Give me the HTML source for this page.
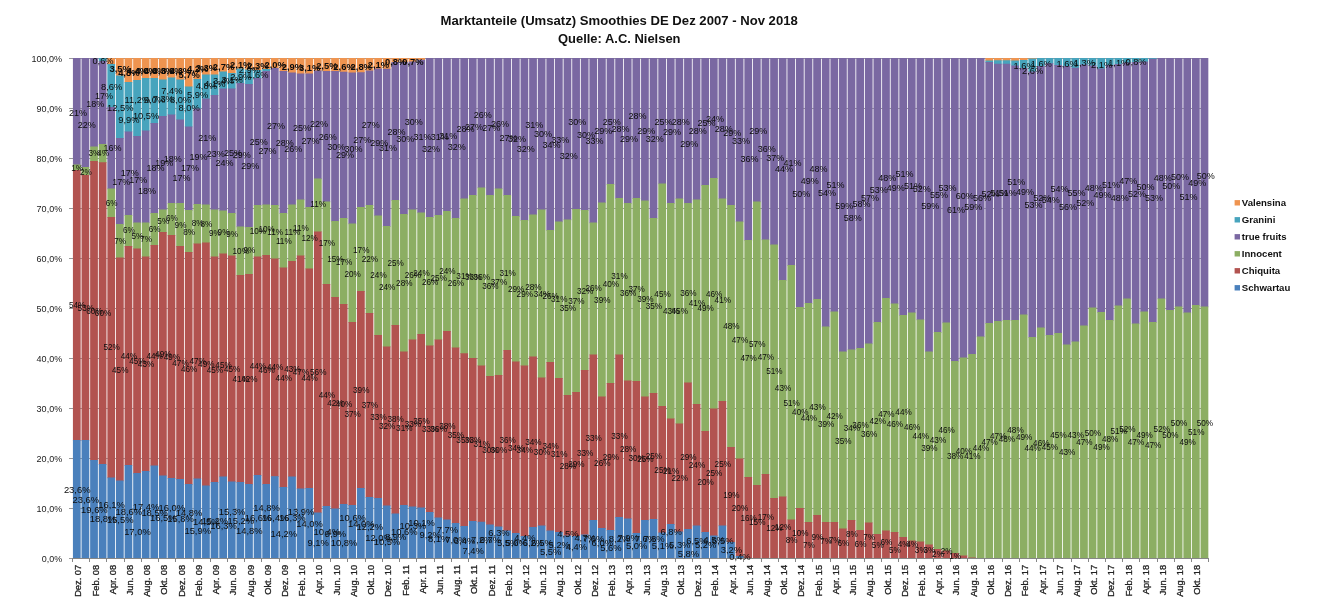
<!DOCTYPE html>
<html lang="de"><head><meta charset="utf-8"><title>Marktanteile (Umsatz) Smoothies DE</title>
<style>html,body{margin:0;padding:0;background:#fff}body{width:1320px;height:614px;overflow:hidden}svg{display:block}</style>
</head><body>
<svg width="1320" height="614" viewBox="0 0 1320 614">
<rect width="1320" height="614" fill="#fff"/>
<g stroke="#9a9a9a" stroke-width="1" shape-rendering="crispEdges">
<line x1="68.5" y1="558.5" x2="1208.06" y2="558.5"/>
<line x1="68.5" y1="508.5" x2="1208.06" y2="508.5"/>
<line x1="68.5" y1="458.5" x2="1208.06" y2="458.5"/>
<line x1="68.5" y1="408.5" x2="1208.06" y2="408.5"/>
<line x1="68.5" y1="358.5" x2="1208.06" y2="358.5"/>
<line x1="68.5" y1="308.5" x2="1208.06" y2="308.5"/>
<line x1="68.5" y1="258.5" x2="1208.06" y2="258.5"/>
<line x1="68.5" y1="208.5" x2="1208.06" y2="208.5"/>
<line x1="68.5" y1="158.5" x2="1208.06" y2="158.5"/>
<line x1="68.5" y1="108.5" x2="1208.06" y2="108.5"/>
<line x1="68.5" y1="58.5" x2="1208.06" y2="58.5"/>
</g>
<g fill="#ef9450"><rect x="107.36" y="58" width="7.76" height="6.7"/><rect x="115.97" y="58" width="7.76" height="18.2"/><rect x="124.57" y="58" width="7.76" height="24.7"/><rect x="133.18" y="58" width="7.76" height="22.7"/><rect x="141.79" y="58" width="7.76" height="20.7"/><rect x="150.4" y="58" width="7.76" height="20.7"/><rect x="159.01" y="58" width="7.76" height="22.2"/><rect x="167.61" y="58" width="7.76" height="20.2"/><rect x="176.22" y="58" width="7.76" height="22.2"/><rect x="184.83" y="58" width="7.76" height="29.2"/><rect x="193.44" y="58" width="7.76" height="21.7"/><rect x="202.05" y="58" width="7.76" height="17.2"/><rect x="210.65" y="58" width="7.76" height="17.2"/><rect x="219.26" y="58" width="7.76" height="14.2"/><rect x="227.87" y="58" width="7.76" height="15.7"/><rect x="236.48" y="58" width="7.76" height="11.2"/><rect x="245.09" y="58" width="7.76" height="12.2"/><rect x="253.69" y="58" width="7.76" height="12.7"/><rect x="262.3" y="58" width="7.76" height="11.7"/><rect x="270.91" y="58" width="7.76" height="10.7"/><rect x="279.52" y="58" width="7.76" height="13.7"/><rect x="288.13" y="58" width="7.76" height="15.2"/><rect x="296.73" y="58" width="7.76" height="16.2"/><rect x="305.34" y="58" width="7.76" height="16.2"/><rect x="313.95" y="58" width="7.76" height="13.2"/><rect x="322.56" y="58" width="7.76" height="13.7"/><rect x="331.17" y="58" width="7.76" height="13.7"/><rect x="339.77" y="58" width="7.76" height="14.45"/><rect x="348.38" y="58" width="7.76" height="15.2"/><rect x="356.99" y="58" width="7.76" height="14.95"/><rect x="365.6" y="58" width="7.76" height="13.2"/><rect x="374.21" y="58" width="7.76" height="11.2"/><rect x="382.81" y="58" width="7.76" height="11.45"/><rect x="391.42" y="58" width="7.76" height="4.7"/><rect x="400.03" y="58" width="7.76" height="4.7"/><rect x="408.64" y="58" width="7.76" height="4.2"/><rect x="417.25" y="58" width="7.76" height="2.45"/><rect x="985.37" y="58" width="7.76" height="3.2"/><rect x="993.98" y="58" width="7.76" height="2.95"/><rect x="1002.59" y="58" width="7.76" height="2.95"/><rect x="1011.2" y="58" width="7.76" height="3.2"/><rect x="1019.81" y="58" width="7.76" height="2.7"/><rect x="1028.41" y="58" width="7.76" height="1.2"/></g>
<g fill="#47a4bd"><rect x="98.75" y="58" width="7.76" height="3.7"/><rect x="107.36" y="64" width="7.76" height="43.7"/><rect x="115.97" y="75.5" width="7.76" height="63.2"/><rect x="124.57" y="82" width="7.76" height="50.2"/><rect x="133.18" y="80" width="7.76" height="56.7"/><rect x="141.79" y="78" width="7.76" height="53.2"/><rect x="150.4" y="78" width="7.76" height="45.7"/><rect x="159.01" y="79.5" width="7.76" height="37.2"/><rect x="167.61" y="77.5" width="7.76" height="37.7"/><rect x="176.22" y="79.5" width="7.76" height="40.7"/><rect x="184.83" y="86.5" width="7.76" height="40.7"/><rect x="193.44" y="79" width="7.76" height="30.2"/><rect x="202.05" y="74.5" width="7.76" height="24.7"/><rect x="210.65" y="74.5" width="7.76" height="21.2"/><rect x="219.26" y="71.5" width="7.76" height="17.7"/><rect x="227.87" y="73" width="7.76" height="16.2"/><rect x="236.48" y="68.5" width="7.76" height="15.2"/><rect x="245.09" y="69.5" width="7.76" height="15.2"/><rect x="253.69" y="70" width="7.76" height="8.7"/><rect x="262.3" y="69" width="7.76" height="2.7"/><rect x="985.37" y="60.5" width="7.76" height="2.2"/><rect x="993.98" y="60.25" width="7.76" height="4.2"/><rect x="1002.59" y="60.25" width="7.76" height="4.2"/><rect x="1011.2" y="60.5" width="7.76" height="5.7"/><rect x="1019.81" y="60" width="7.76" height="8.7"/><rect x="1028.41" y="58.5" width="7.76" height="13.7"/><rect x="1037.02" y="58" width="7.76" height="8.7"/><rect x="1045.63" y="58" width="7.76" height="5.95"/><rect x="1054.24" y="58" width="7.76" height="7.7"/><rect x="1062.85" y="58" width="7.76" height="8.7"/><rect x="1071.45" y="58" width="7.76" height="10.45"/><rect x="1080.06" y="58" width="7.76" height="7.2"/><rect x="1088.67" y="58" width="7.76" height="8.2"/><rect x="1097.28" y="58" width="7.76" height="11.2"/><rect x="1105.88" y="58" width="7.76" height="7.7"/><rect x="1114.49" y="58" width="7.76" height="6.7"/><rect x="1123.1" y="58" width="7.76" height="5.2"/><rect x="1131.71" y="58" width="7.76" height="4.7"/><rect x="1140.32" y="58" width="7.76" height="4.2"/><rect x="1148.92" y="58" width="7.76" height="1.45"/></g>
<g fill="#7a68a2"><rect x="72.92" y="58" width="7.76" height="107.2"/><rect x="81.53" y="58" width="7.76" height="109.7"/><rect x="90.14" y="58" width="7.76" height="89.2"/><rect x="98.75" y="61" width="7.76" height="83.7"/><rect x="107.36" y="107" width="7.76" height="82.2"/><rect x="115.97" y="138" width="7.76" height="86.7"/><rect x="124.57" y="131.5" width="7.76" height="84.2"/><rect x="133.18" y="136" width="7.76" height="87.2"/><rect x="141.79" y="130.5" width="7.76" height="92.7"/><rect x="150.4" y="123" width="7.76" height="90.7"/><rect x="159.01" y="116" width="7.76" height="94.2"/><rect x="167.61" y="114.5" width="7.76" height="89.2"/><rect x="176.22" y="119.5" width="7.76" height="84.2"/><rect x="184.83" y="126.5" width="7.76" height="84.2"/><rect x="193.44" y="108.5" width="7.76" height="96.2"/><rect x="202.05" y="98.5" width="7.76" height="106.7"/><rect x="210.65" y="95" width="7.76" height="115.2"/><rect x="219.26" y="88.5" width="7.76" height="122.7"/><rect x="227.87" y="88.5" width="7.76" height="125.2"/><rect x="236.48" y="83" width="7.76" height="144.2"/><rect x="245.09" y="84" width="7.76" height="143.7"/><rect x="253.69" y="78" width="7.76" height="127.7"/><rect x="262.3" y="71" width="7.76" height="134.2"/><rect x="270.91" y="68" width="7.76" height="137.7"/><rect x="279.52" y="71" width="7.76" height="142.7"/><rect x="288.13" y="72.5" width="7.76" height="132.7"/><rect x="296.73" y="73.5" width="7.76" height="126.7"/><rect x="305.34" y="73.5" width="7.76" height="134.2"/><rect x="313.95" y="70.5" width="7.76" height="108.7"/><rect x="322.56" y="71" width="7.76" height="131.2"/><rect x="331.17" y="71" width="7.76" height="150.7"/><rect x="339.77" y="71.75" width="7.76" height="146.95"/><rect x="348.38" y="72.5" width="7.76" height="151.7"/><rect x="356.99" y="72.25" width="7.76" height="135.45"/><rect x="365.6" y="70.5" width="7.76" height="135.2"/><rect x="374.21" y="68.5" width="7.76" height="147.7"/><rect x="382.81" y="68.75" width="7.76" height="157.95"/><rect x="391.42" y="62" width="7.76" height="138.7"/><rect x="400.03" y="62" width="7.76" height="152.7"/><rect x="408.64" y="61.5" width="7.76" height="148.7"/><rect x="417.25" y="59.75" width="7.76" height="153.45"/><rect x="425.85" y="58" width="7.76" height="159.7"/><rect x="434.46" y="58" width="7.76" height="157.7"/><rect x="443.07" y="58" width="7.76" height="153.7"/><rect x="451.68" y="58" width="7.76" height="160.7"/><rect x="460.29" y="58" width="7.76" height="141.2"/><rect x="468.89" y="58" width="7.76" height="137.7"/><rect x="477.5" y="58" width="7.76" height="130.2"/><rect x="486.11" y="58" width="7.76" height="137.7"/><rect x="494.72" y="58" width="7.76" height="131.2"/><rect x="503.33" y="58" width="7.76" height="137.7"/><rect x="511.93" y="58" width="7.76" height="158.7"/><rect x="520.54" y="58" width="7.76" height="162.7"/><rect x="529.15" y="58" width="7.76" height="157.2"/><rect x="537.76" y="58" width="7.76" height="152.2"/><rect x="546.37" y="58" width="7.76" height="172.7"/><rect x="554.97" y="58" width="7.76" height="164.2"/><rect x="563.58" y="58" width="7.76" height="162.2"/><rect x="572.19" y="58" width="7.76" height="151.7"/><rect x="580.8" y="58" width="7.76" height="152.7"/><rect x="589.4" y="58" width="7.76" height="165.2"/><rect x="598.01" y="58" width="7.76" height="145.2"/><rect x="606.62" y="58" width="7.76" height="126.7"/><rect x="615.23" y="58" width="7.76" height="140.7"/><rect x="623.84" y="58" width="7.76" height="145.7"/><rect x="632.44" y="58" width="7.76" height="140.7"/><rect x="641.05" y="58" width="7.76" height="143.2"/><rect x="649.66" y="58" width="7.76" height="160.7"/><rect x="658.27" y="58" width="7.76" height="126.2"/><rect x="666.88" y="58" width="7.76" height="145.7"/><rect x="675.49" y="58" width="7.76" height="141.2"/><rect x="684.09" y="58" width="7.76" height="145.7"/><rect x="692.7" y="58" width="7.76" height="142.2"/><rect x="701.31" y="58" width="7.76" height="127.7"/><rect x="709.92" y="58" width="7.76" height="120.7"/><rect x="718.52" y="58" width="7.76" height="141.2"/><rect x="727.13" y="58" width="7.76" height="147.7"/><rect x="735.74" y="58" width="7.76" height="164.2"/><rect x="744.35" y="58" width="7.76" height="182.7"/><rect x="752.96" y="58" width="7.76" height="144.2"/><rect x="761.57" y="58" width="7.76" height="182.2"/><rect x="770.17" y="58" width="7.76" height="187.2"/><rect x="778.78" y="58" width="7.76" height="222.7"/><rect x="787.39" y="58" width="7.76" height="207.7"/><rect x="796" y="58" width="7.76" height="249.7"/><rect x="804.61" y="58" width="7.76" height="245.7"/><rect x="813.21" y="58" width="7.76" height="241.7"/><rect x="821.82" y="58" width="7.76" height="269.2"/><rect x="830.43" y="58" width="7.76" height="254.2"/><rect x="839.04" y="58" width="7.76" height="294.2"/><rect x="847.64" y="58" width="7.76" height="292.2"/><rect x="856.25" y="58" width="7.76" height="290.7"/><rect x="864.86" y="58" width="7.76" height="286.2"/><rect x="873.47" y="58" width="7.76" height="264.7"/><rect x="882.08" y="58" width="7.76" height="240.7"/><rect x="890.69" y="58" width="7.76" height="246.2"/><rect x="899.29" y="58" width="7.76" height="257.7"/><rect x="907.9" y="58" width="7.76" height="255.2"/><rect x="916.51" y="58" width="7.76" height="262.2"/><rect x="925.12" y="58" width="7.76" height="294.2"/><rect x="933.73" y="58" width="7.76" height="274.7"/><rect x="942.33" y="58" width="7.76" height="265.2"/><rect x="950.94" y="58" width="7.76" height="303.7"/><rect x="959.55" y="58" width="7.76" height="300.2"/><rect x="968.16" y="58" width="7.76" height="296.7"/><rect x="976.76" y="58" width="7.76" height="279.2"/><rect x="985.37" y="62" width="7.76" height="261.7"/><rect x="993.98" y="63.75" width="7.76" height="257.95"/><rect x="1002.59" y="63.75" width="7.76" height="256.95"/><rect x="1011.2" y="65.5" width="7.76" height="255.2"/><rect x="1019.81" y="68" width="7.76" height="247.2"/><rect x="1028.41" y="71.5" width="7.76" height="266.2"/><rect x="1037.02" y="66" width="7.76" height="262.2"/><rect x="1045.63" y="63.25" width="7.76" height="272.45"/><rect x="1054.24" y="65" width="7.76" height="268.7"/><rect x="1062.85" y="66" width="7.76" height="279.2"/><rect x="1071.45" y="67.75" width="7.76" height="274.45"/><rect x="1080.06" y="64.5" width="7.76" height="261.7"/><rect x="1088.67" y="65.5" width="7.76" height="242.7"/><rect x="1097.28" y="68.5" width="7.76" height="244.2"/><rect x="1105.88" y="65" width="7.76" height="255.7"/><rect x="1114.49" y="64" width="7.76" height="242.2"/><rect x="1123.1" y="62.5" width="7.76" height="236.7"/><rect x="1131.71" y="62" width="7.76" height="262.2"/><rect x="1140.32" y="61.5" width="7.76" height="250.7"/><rect x="1148.92" y="58.75" width="7.76" height="263.95"/><rect x="1157.53" y="58" width="7.76" height="241.2"/><rect x="1166.14" y="58" width="7.76" height="252.7"/><rect x="1174.75" y="58" width="7.76" height="249.2"/><rect x="1183.36" y="58" width="7.76" height="255.2"/><rect x="1191.96" y="58" width="7.76" height="247.7"/><rect x="1200.57" y="58" width="7.76" height="249.2"/></g>
<g fill="#8cae63"><rect x="72.92" y="164.5" width="7.76" height="6.2"/><rect x="81.53" y="167" width="7.76" height="8.7"/><rect x="90.14" y="146.5" width="7.76" height="15.2"/><rect x="98.75" y="144" width="7.76" height="18.95"/><rect x="107.36" y="188.5" width="7.76" height="29.2"/><rect x="115.97" y="224" width="7.76" height="34.2"/><rect x="124.57" y="215" width="7.76" height="31.7"/><rect x="133.18" y="222.5" width="7.76" height="26.7"/><rect x="141.79" y="222.5" width="7.76" height="34.7"/><rect x="150.4" y="213" width="7.76" height="32.7"/><rect x="159.01" y="209.5" width="7.76" height="23.2"/><rect x="167.61" y="203" width="7.76" height="32.7"/><rect x="176.22" y="203" width="7.76" height="43.7"/><rect x="184.83" y="210" width="7.76" height="42.7"/><rect x="193.44" y="204" width="7.76" height="40.2"/><rect x="202.05" y="204.5" width="7.76" height="38.7"/><rect x="210.65" y="209.5" width="7.76" height="47.7"/><rect x="219.26" y="210.5" width="7.76" height="43.7"/><rect x="227.87" y="213" width="7.76" height="43.2"/><rect x="236.48" y="226.5" width="7.76" height="49.2"/><rect x="245.09" y="227" width="7.76" height="47.7"/><rect x="253.69" y="205" width="7.76" height="52.2"/><rect x="262.3" y="204.5" width="7.76" height="51.2"/><rect x="270.91" y="205" width="7.76" height="54.2"/><rect x="279.52" y="213" width="7.76" height="55.2"/><rect x="288.13" y="204.5" width="7.76" height="57.2"/><rect x="296.73" y="199.5" width="7.76" height="56.7"/><rect x="305.34" y="207" width="7.76" height="62.2"/><rect x="313.95" y="178.5" width="7.76" height="53.7"/><rect x="322.56" y="201.5" width="7.76" height="83.2"/><rect x="331.17" y="221" width="7.76" height="76.7"/><rect x="339.77" y="218" width="7.76" height="86.7"/><rect x="348.38" y="223.5" width="7.76" height="99.2"/><rect x="356.99" y="207" width="7.76" height="84.7"/><rect x="365.6" y="205" width="7.76" height="108.7"/><rect x="374.21" y="215.5" width="7.76" height="120.2"/><rect x="382.81" y="226" width="7.76" height="121.2"/><rect x="391.42" y="200" width="7.76" height="125.7"/><rect x="400.03" y="214" width="7.76" height="138.2"/><rect x="408.64" y="209.5" width="7.76" height="130.7"/><rect x="417.25" y="212.5" width="7.76" height="122.2"/><rect x="425.85" y="217" width="7.76" height="129.2"/><rect x="434.46" y="215" width="7.76" height="125.2"/><rect x="443.07" y="211" width="7.76" height="120.7"/><rect x="451.68" y="218" width="7.76" height="130.2"/><rect x="460.29" y="198.5" width="7.76" height="155.45"/><rect x="468.89" y="195" width="7.76" height="163.7"/><rect x="477.5" y="187.5" width="7.76" height="178.7"/><rect x="486.11" y="195" width="7.76" height="181.7"/><rect x="494.72" y="188.5" width="7.76" height="187.2"/><rect x="503.33" y="195" width="7.76" height="155.7"/><rect x="511.93" y="216" width="7.76" height="146.2"/><rect x="520.54" y="220" width="7.76" height="146.2"/><rect x="529.15" y="214.5" width="7.76" height="142.7"/><rect x="537.76" y="209.5" width="7.76" height="168.7"/><rect x="546.37" y="230" width="7.76" height="132.7"/><rect x="554.97" y="221.5" width="7.76" height="157.2"/><rect x="563.58" y="219.5" width="7.76" height="176.2"/><rect x="572.19" y="209" width="7.76" height="183.7"/><rect x="580.8" y="210" width="7.76" height="160.7"/><rect x="589.4" y="222.5" width="7.76" height="132.7"/><rect x="598.01" y="202.5" width="7.76" height="194.7"/><rect x="606.62" y="184" width="7.76" height="199.7"/><rect x="615.23" y="198" width="7.76" height="157.2"/><rect x="623.84" y="203" width="7.76" height="178.2"/><rect x="632.44" y="198" width="7.76" height="183.7"/><rect x="641.05" y="200.5" width="7.76" height="196.7"/><rect x="649.66" y="218" width="7.76" height="175.7"/><rect x="658.27" y="183.5" width="7.76" height="223.2"/><rect x="666.88" y="203" width="7.76" height="216.2"/><rect x="675.49" y="198.5" width="7.76" height="225.7"/><rect x="684.09" y="203" width="7.76" height="180.2"/><rect x="692.7" y="199.5" width="7.76" height="205.2"/><rect x="701.31" y="185" width="7.76" height="246.7"/><rect x="709.92" y="178" width="7.76" height="231.2"/><rect x="718.52" y="198.5" width="7.76" height="203.2"/><rect x="727.13" y="205" width="7.76" height="242.7"/><rect x="735.74" y="221.5" width="7.76" height="237.7"/><rect x="744.35" y="240" width="7.76" height="237.7"/><rect x="752.96" y="201.5" width="7.76" height="284.2"/><rect x="761.57" y="239.5" width="7.76" height="235.2"/><rect x="770.17" y="244.5" width="7.76" height="254.2"/><rect x="778.78" y="280" width="7.76" height="217.2"/><rect x="787.39" y="265" width="7.76" height="255.2"/><rect x="796" y="307" width="7.76" height="201.7"/><rect x="804.61" y="303" width="7.76" height="219.7"/><rect x="813.21" y="299" width="7.76" height="216.7"/><rect x="821.82" y="326.5" width="7.76" height="196.2"/><rect x="830.43" y="311.5" width="7.76" height="211.2"/><rect x="839.04" y="351.5" width="7.76" height="177.7"/><rect x="847.64" y="349.5" width="7.76" height="171.2"/><rect x="856.25" y="348" width="7.76" height="182.7"/><rect x="864.86" y="343.5" width="7.76" height="179.7"/><rect x="873.47" y="322" width="7.76" height="212.7"/><rect x="882.08" y="298" width="7.76" height="233.2"/><rect x="890.69" y="303.5" width="7.76" height="229.2"/><rect x="899.29" y="315" width="7.76" height="222.7"/><rect x="907.9" y="312.5" width="7.76" height="228.7"/><rect x="916.51" y="319.5" width="7.76" height="222.7"/><rect x="925.12" y="351.5" width="7.76" height="193.7"/><rect x="933.73" y="332" width="7.76" height="217.7"/><rect x="942.33" y="322.5" width="7.76" height="228.7"/><rect x="950.94" y="361" width="7.76" height="192.7"/><rect x="959.55" y="357.5" width="7.76" height="198.7"/><rect x="968.16" y="354" width="7.76" height="204.2"/><rect x="976.76" y="336.5" width="7.76" height="221.5"/><rect x="985.37" y="323" width="7.76" height="235"/><rect x="993.98" y="321" width="7.76" height="237"/><rect x="1002.59" y="320" width="7.76" height="238"/><rect x="1011.2" y="320" width="7.76" height="238"/><rect x="1019.81" y="314.5" width="7.76" height="243.5"/><rect x="1028.41" y="337" width="7.76" height="221"/><rect x="1037.02" y="327.5" width="7.76" height="230.5"/><rect x="1045.63" y="335" width="7.76" height="223"/><rect x="1054.24" y="333" width="7.76" height="225"/><rect x="1062.85" y="344.5" width="7.76" height="213.5"/><rect x="1071.45" y="341.5" width="7.76" height="216.5"/><rect x="1080.06" y="325.5" width="7.76" height="232.5"/><rect x="1088.67" y="307.5" width="7.76" height="250.5"/><rect x="1097.28" y="312" width="7.76" height="246"/><rect x="1105.88" y="320" width="7.76" height="238"/><rect x="1114.49" y="305.5" width="7.76" height="252.5"/><rect x="1123.1" y="298.5" width="7.76" height="259.5"/><rect x="1131.71" y="323.5" width="7.76" height="234.5"/><rect x="1140.32" y="311.5" width="7.76" height="246.5"/><rect x="1148.92" y="322" width="7.76" height="236"/><rect x="1157.53" y="298.5" width="7.76" height="259.5"/><rect x="1166.14" y="310" width="7.76" height="248"/><rect x="1174.75" y="306.5" width="7.76" height="251.5"/><rect x="1183.36" y="312.5" width="7.76" height="245.5"/><rect x="1191.96" y="305" width="7.76" height="253"/><rect x="1200.57" y="306.5" width="7.76" height="251.5"/></g>
<g fill="#b25350"><rect x="72.92" y="170" width="7.76" height="270.7"/><rect x="81.53" y="175" width="7.76" height="265.7"/><rect x="90.14" y="161" width="7.76" height="299.7"/><rect x="98.75" y="162.25" width="7.76" height="302.45"/><rect x="107.36" y="217" width="7.76" height="261.2"/><rect x="115.97" y="257.5" width="7.76" height="223.7"/><rect x="124.57" y="246" width="7.76" height="219.7"/><rect x="133.18" y="248.5" width="7.76" height="225.2"/><rect x="141.79" y="256.5" width="7.76" height="215.2"/><rect x="150.4" y="245" width="7.76" height="221.2"/><rect x="159.01" y="232" width="7.76" height="244.2"/><rect x="167.61" y="235" width="7.76" height="243.7"/><rect x="176.22" y="246" width="7.76" height="233.7"/><rect x="184.83" y="252" width="7.76" height="232.7"/><rect x="193.44" y="243.5" width="7.76" height="235.7"/><rect x="202.05" y="242.5" width="7.76" height="243.7"/><rect x="210.65" y="256.5" width="7.76" height="226.2"/><rect x="219.26" y="253.5" width="7.76" height="223.7"/><rect x="227.87" y="255.5" width="7.76" height="226.7"/><rect x="236.48" y="275" width="7.76" height="207.7"/><rect x="245.09" y="274" width="7.76" height="210.7"/><rect x="253.69" y="256.5" width="7.76" height="219.2"/><rect x="262.3" y="255" width="7.76" height="229.7"/><rect x="270.91" y="258.5" width="7.76" height="218.4"/><rect x="279.52" y="267.5" width="7.76" height="220.2"/><rect x="288.13" y="261" width="7.76" height="216.2"/><rect x="296.73" y="255.5" width="7.76" height="233.7"/><rect x="305.34" y="268.5" width="7.76" height="220.2"/><rect x="313.95" y="231.5" width="7.76" height="281.7"/><rect x="322.56" y="284" width="7.76" height="222.7"/><rect x="331.17" y="297" width="7.76" height="212.2"/><rect x="339.77" y="304" width="7.76" height="200.7"/><rect x="348.38" y="322" width="7.76" height="183.7"/><rect x="356.99" y="291" width="7.76" height="197.7"/><rect x="365.6" y="313" width="7.76" height="184.7"/><rect x="374.21" y="335" width="7.76" height="163.7"/><rect x="382.81" y="346.5" width="7.76" height="159.7"/><rect x="391.42" y="325" width="7.76" height="189.2"/><rect x="400.03" y="351.5" width="7.76" height="154.2"/><rect x="408.64" y="339.5" width="7.76" height="167.7"/><rect x="417.25" y="334" width="7.76" height="174.2"/><rect x="425.85" y="345.5" width="7.76" height="167.2"/><rect x="434.46" y="339.5" width="7.76" height="178.7"/><rect x="443.07" y="331" width="7.76" height="189.2"/><rect x="451.68" y="347.5" width="7.76" height="176.2"/><rect x="460.29" y="353.25" width="7.76" height="173.45"/><rect x="468.89" y="358" width="7.76" height="163.7"/><rect x="477.5" y="365.5" width="7.76" height="156.95"/><rect x="486.11" y="376" width="7.76" height="149.2"/><rect x="494.72" y="375" width="7.76" height="152.2"/><rect x="503.33" y="350" width="7.76" height="181.2"/><rect x="511.93" y="361.5" width="7.76" height="172.2"/><rect x="520.54" y="365.5" width="7.76" height="171.2"/><rect x="529.15" y="356.5" width="7.76" height="171.2"/><rect x="537.76" y="377.5" width="7.76" height="148.7"/><rect x="546.37" y="362" width="7.76" height="169.2"/><rect x="554.97" y="378" width="7.76" height="154.7"/><rect x="563.58" y="395" width="7.76" height="141.2"/><rect x="572.19" y="392" width="7.76" height="144.7"/><rect x="580.8" y="370" width="7.76" height="165.2"/><rect x="589.4" y="354.5" width="7.76" height="166.2"/><rect x="598.01" y="396.5" width="7.76" height="132.2"/><rect x="606.62" y="383" width="7.76" height="147.7"/><rect x="615.23" y="354.5" width="7.76" height="163.2"/><rect x="623.84" y="380.5" width="7.76" height="138.7"/><rect x="632.44" y="381" width="7.76" height="152.7"/><rect x="641.05" y="396.5" width="7.76" height="124.2"/><rect x="649.66" y="393" width="7.76" height="126.7"/><rect x="658.27" y="406" width="7.76" height="127.2"/><rect x="666.88" y="418.5" width="7.76" height="106.2"/><rect x="675.49" y="423.5" width="7.76" height="108.7"/><rect x="684.09" y="382.5" width="7.76" height="147.2"/><rect x="692.7" y="404" width="7.76" height="122.2"/><rect x="701.31" y="431" width="7.76" height="101.7"/><rect x="709.92" y="408.5" width="7.76" height="127.7"/><rect x="718.52" y="401" width="7.76" height="125.2"/><rect x="727.13" y="447" width="7.76" height="95.7"/><rect x="735.74" y="458.5" width="7.76" height="98.2"/><rect x="744.35" y="477" width="7.76" height="81"/><rect x="752.96" y="485" width="7.76" height="73"/><rect x="761.57" y="474" width="7.76" height="84"/><rect x="770.17" y="498" width="7.76" height="60"/><rect x="778.78" y="496.5" width="7.76" height="61.5"/><rect x="787.39" y="519.5" width="7.76" height="38.5"/><rect x="796" y="508" width="7.76" height="50"/><rect x="804.61" y="522" width="7.76" height="36"/><rect x="813.21" y="515" width="7.76" height="43"/><rect x="821.82" y="522" width="7.76" height="36"/><rect x="830.43" y="522" width="7.76" height="36"/><rect x="839.04" y="528.5" width="7.76" height="29.5"/><rect x="847.64" y="520" width="7.76" height="38"/><rect x="856.25" y="530" width="7.76" height="28"/><rect x="864.86" y="522.5" width="7.76" height="35.5"/><rect x="873.47" y="534" width="7.76" height="24"/><rect x="882.08" y="530.5" width="7.76" height="27.5"/><rect x="890.69" y="532" width="7.76" height="26"/><rect x="899.29" y="537" width="7.76" height="21"/><rect x="907.9" y="540.5" width="7.76" height="17.5"/><rect x="916.51" y="541.5" width="7.76" height="16.5"/><rect x="925.12" y="544.5" width="7.76" height="13.5"/><rect x="933.73" y="549" width="7.76" height="9"/><rect x="942.33" y="550.5" width="7.76" height="7.5"/><rect x="950.94" y="553" width="7.76" height="5"/><rect x="959.55" y="555.5" width="7.76" height="2.5"/><rect x="968.16" y="557.5" width="7.76" height="0.5"/></g>
<g fill="#4a80bc"><rect x="72.92" y="440" width="7.76" height="118"/><rect x="81.53" y="440" width="7.76" height="118"/><rect x="90.14" y="460" width="7.76" height="98"/><rect x="98.75" y="464" width="7.76" height="94"/><rect x="107.36" y="477.5" width="7.76" height="80.5"/><rect x="115.97" y="480.5" width="7.76" height="77.5"/><rect x="124.57" y="465" width="7.76" height="93"/><rect x="133.18" y="473" width="7.76" height="85"/><rect x="141.79" y="471" width="7.76" height="87"/><rect x="150.4" y="465.5" width="7.76" height="92.5"/><rect x="159.01" y="475.5" width="7.76" height="82.5"/><rect x="167.61" y="478" width="7.76" height="80"/><rect x="176.22" y="479" width="7.76" height="79"/><rect x="184.83" y="484" width="7.76" height="74"/><rect x="193.44" y="478.5" width="7.76" height="79.5"/><rect x="202.05" y="485.5" width="7.76" height="72.5"/><rect x="210.65" y="482" width="7.76" height="76"/><rect x="219.26" y="476.5" width="7.76" height="81.5"/><rect x="227.87" y="481.5" width="7.76" height="76.5"/><rect x="236.48" y="482" width="7.76" height="76"/><rect x="245.09" y="484" width="7.76" height="74"/><rect x="253.69" y="475" width="7.76" height="83"/><rect x="262.3" y="484" width="7.76" height="74"/><rect x="270.91" y="476.2" width="7.76" height="81.8"/><rect x="279.52" y="487" width="7.76" height="71"/><rect x="288.13" y="476.5" width="7.76" height="81.5"/><rect x="296.73" y="488.5" width="7.76" height="69.5"/><rect x="305.34" y="488" width="7.76" height="70"/><rect x="313.95" y="512.5" width="7.76" height="45.5"/><rect x="322.56" y="506" width="7.76" height="52"/><rect x="331.17" y="508.5" width="7.76" height="49.5"/><rect x="339.77" y="504" width="7.76" height="54"/><rect x="348.38" y="505" width="7.76" height="53"/><rect x="356.99" y="488" width="7.76" height="70"/><rect x="365.6" y="497" width="7.76" height="61"/><rect x="374.21" y="498" width="7.76" height="60"/><rect x="382.81" y="505.5" width="7.76" height="52.5"/><rect x="391.42" y="513.5" width="7.76" height="44.5"/><rect x="400.03" y="505" width="7.76" height="53"/><rect x="408.64" y="506.5" width="7.76" height="51.5"/><rect x="417.25" y="507.5" width="7.76" height="50.5"/><rect x="425.85" y="512" width="7.76" height="46"/><rect x="434.46" y="517.5" width="7.76" height="40.5"/><rect x="443.07" y="519.5" width="7.76" height="38.5"/><rect x="451.68" y="523" width="7.76" height="35"/><rect x="460.29" y="526" width="7.76" height="32"/><rect x="468.89" y="521" width="7.76" height="37"/><rect x="477.5" y="521.75" width="7.76" height="36.25"/><rect x="486.11" y="524.5" width="7.76" height="33.5"/><rect x="494.72" y="526.5" width="7.76" height="31.5"/><rect x="503.33" y="530.5" width="7.76" height="27.5"/><rect x="511.93" y="533" width="7.76" height="25"/><rect x="520.54" y="536" width="7.76" height="22"/><rect x="529.15" y="527" width="7.76" height="31"/><rect x="537.76" y="525.5" width="7.76" height="32.5"/><rect x="546.37" y="530.5" width="7.76" height="27.5"/><rect x="554.97" y="532" width="7.76" height="26"/><rect x="563.58" y="535.5" width="7.76" height="22.5"/><rect x="572.19" y="536" width="7.76" height="22"/><rect x="580.8" y="534.5" width="7.76" height="23.5"/><rect x="589.4" y="520" width="7.76" height="38"/><rect x="598.01" y="528" width="7.76" height="30"/><rect x="606.62" y="530" width="7.76" height="28"/><rect x="615.23" y="517" width="7.76" height="41"/><rect x="623.84" y="518.5" width="7.76" height="39.5"/><rect x="632.44" y="533" width="7.76" height="25"/><rect x="641.05" y="520" width="7.76" height="38"/><rect x="649.66" y="519" width="7.76" height="39"/><rect x="658.27" y="532.5" width="7.76" height="25.5"/><rect x="666.88" y="524" width="7.76" height="34"/><rect x="675.49" y="531.5" width="7.76" height="26.5"/><rect x="684.09" y="529" width="7.76" height="29"/><rect x="692.7" y="525.5" width="7.76" height="32.5"/><rect x="701.31" y="532" width="7.76" height="26"/><rect x="709.92" y="535.5" width="7.76" height="22.5"/><rect x="718.52" y="525.5" width="7.76" height="32.5"/><rect x="727.13" y="542" width="7.76" height="16"/><rect x="735.74" y="556" width="7.76" height="2"/></g>
<g stroke="#868686" stroke-width="1" shape-rendering="crispEdges">
<line x1="72.5" y1="558.5" x2="1208.76" y2="558.5"/>
<line x1="72.5" y1="558" x2="72.5" y2="562"/>
<line x1="89.72" y1="558" x2="89.72" y2="562"/>
<line x1="106.93" y1="558" x2="106.93" y2="562"/>
<line x1="124.15" y1="558" x2="124.15" y2="562"/>
<line x1="141.36" y1="558" x2="141.36" y2="562"/>
<line x1="158.58" y1="558" x2="158.58" y2="562"/>
<line x1="175.8" y1="558" x2="175.8" y2="562"/>
<line x1="193.01" y1="558" x2="193.01" y2="562"/>
<line x1="210.23" y1="558" x2="210.23" y2="562"/>
<line x1="227.44" y1="558" x2="227.44" y2="562"/>
<line x1="244.66" y1="558" x2="244.66" y2="562"/>
<line x1="261.88" y1="558" x2="261.88" y2="562"/>
<line x1="279.09" y1="558" x2="279.09" y2="562"/>
<line x1="296.31" y1="558" x2="296.31" y2="562"/>
<line x1="313.52" y1="558" x2="313.52" y2="562"/>
<line x1="330.74" y1="558" x2="330.74" y2="562"/>
<line x1="347.96" y1="558" x2="347.96" y2="562"/>
<line x1="365.17" y1="558" x2="365.17" y2="562"/>
<line x1="382.39" y1="558" x2="382.39" y2="562"/>
<line x1="399.6" y1="558" x2="399.6" y2="562"/>
<line x1="416.82" y1="558" x2="416.82" y2="562"/>
<line x1="434.04" y1="558" x2="434.04" y2="562"/>
<line x1="451.25" y1="558" x2="451.25" y2="562"/>
<line x1="468.47" y1="558" x2="468.47" y2="562"/>
<line x1="485.68" y1="558" x2="485.68" y2="562"/>
<line x1="502.9" y1="558" x2="502.9" y2="562"/>
<line x1="520.12" y1="558" x2="520.12" y2="562"/>
<line x1="537.33" y1="558" x2="537.33" y2="562"/>
<line x1="554.55" y1="558" x2="554.55" y2="562"/>
<line x1="571.76" y1="558" x2="571.76" y2="562"/>
<line x1="588.98" y1="558" x2="588.98" y2="562"/>
<line x1="606.2" y1="558" x2="606.2" y2="562"/>
<line x1="623.41" y1="558" x2="623.41" y2="562"/>
<line x1="640.63" y1="558" x2="640.63" y2="562"/>
<line x1="657.84" y1="558" x2="657.84" y2="562"/>
<line x1="675.06" y1="558" x2="675.06" y2="562"/>
<line x1="692.28" y1="558" x2="692.28" y2="562"/>
<line x1="709.49" y1="558" x2="709.49" y2="562"/>
<line x1="726.71" y1="558" x2="726.71" y2="562"/>
<line x1="743.92" y1="558" x2="743.92" y2="562"/>
<line x1="761.14" y1="558" x2="761.14" y2="562"/>
<line x1="778.36" y1="558" x2="778.36" y2="562"/>
<line x1="795.57" y1="558" x2="795.57" y2="562"/>
<line x1="812.79" y1="558" x2="812.79" y2="562"/>
<line x1="830" y1="558" x2="830" y2="562"/>
<line x1="847.22" y1="558" x2="847.22" y2="562"/>
<line x1="864.44" y1="558" x2="864.44" y2="562"/>
<line x1="881.65" y1="558" x2="881.65" y2="562"/>
<line x1="898.87" y1="558" x2="898.87" y2="562"/>
<line x1="916.08" y1="558" x2="916.08" y2="562"/>
<line x1="933.3" y1="558" x2="933.3" y2="562"/>
<line x1="950.52" y1="558" x2="950.52" y2="562"/>
<line x1="967.73" y1="558" x2="967.73" y2="562"/>
<line x1="984.95" y1="558" x2="984.95" y2="562"/>
<line x1="1002.16" y1="558" x2="1002.16" y2="562"/>
<line x1="1019.38" y1="558" x2="1019.38" y2="562"/>
<line x1="1036.6" y1="558" x2="1036.6" y2="562"/>
<line x1="1053.81" y1="558" x2="1053.81" y2="562"/>
<line x1="1071.03" y1="558" x2="1071.03" y2="562"/>
<line x1="1088.24" y1="558" x2="1088.24" y2="562"/>
<line x1="1105.46" y1="558" x2="1105.46" y2="562"/>
<line x1="1122.68" y1="558" x2="1122.68" y2="562"/>
<line x1="1139.89" y1="558" x2="1139.89" y2="562"/>
<line x1="1157.11" y1="558" x2="1157.11" y2="562"/>
<line x1="1174.32" y1="558" x2="1174.32" y2="562"/>
<line x1="1191.54" y1="558" x2="1191.54" y2="562"/>
<line x1="1208.76" y1="558" x2="1208.76" y2="562"/>
</g>
<g font-family="'Liberation Sans',sans-serif" font-size="9.9" fill="#222" text-anchor="end">
<text x="62.2" y="561.7" textLength="20.4" lengthAdjust="spacingAndGlyphs">0,0%</text>
<text x="62.2" y="511.7" textLength="25.6" lengthAdjust="spacingAndGlyphs">10,0%</text>
<text x="62.2" y="461.7" textLength="25.6" lengthAdjust="spacingAndGlyphs">20,0%</text>
<text x="62.2" y="411.7" textLength="25.6" lengthAdjust="spacingAndGlyphs">30,0%</text>
<text x="62.2" y="361.7" textLength="25.6" lengthAdjust="spacingAndGlyphs">40,0%</text>
<text x="62.2" y="311.7" textLength="25.6" lengthAdjust="spacingAndGlyphs">50,0%</text>
<text x="62.2" y="261.7" textLength="25.6" lengthAdjust="spacingAndGlyphs">60,0%</text>
<text x="62.2" y="211.7" textLength="25.6" lengthAdjust="spacingAndGlyphs">70,0%</text>
<text x="62.2" y="161.7" textLength="25.6" lengthAdjust="spacingAndGlyphs">80,0%</text>
<text x="62.2" y="111.7" textLength="25.6" lengthAdjust="spacingAndGlyphs">90,0%</text>
<text x="62.2" y="61.7" textLength="30.8" lengthAdjust="spacingAndGlyphs">100,0%</text>
</g>
<g font-family="'Liberation Sans',sans-serif" font-size="9.3" fill="#222" stroke="#222" stroke-width="0.3" text-anchor="end">
<text transform="translate(81.4,564.8) rotate(-90)">Dez. 07</text>
<text transform="translate(98.62,564.8) rotate(-90)">Feb. 08</text>
<text transform="translate(115.84,564.8) rotate(-90)">Apr. 08</text>
<text transform="translate(133.05,564.8) rotate(-90)">Jun. 08</text>
<text transform="translate(150.27,564.8) rotate(-90)">Aug. 08</text>
<text transform="translate(167.48,564.8) rotate(-90)">Okt. 08</text>
<text transform="translate(184.7,564.8) rotate(-90)">Dez. 08</text>
<text transform="translate(201.92,564.8) rotate(-90)">Feb. 09</text>
<text transform="translate(219.13,564.8) rotate(-90)">Apr. 09</text>
<text transform="translate(236.35,564.8) rotate(-90)">Jun. 09</text>
<text transform="translate(253.56,564.8) rotate(-90)">Aug. 09</text>
<text transform="translate(270.78,564.8) rotate(-90)">Okt. 09</text>
<text transform="translate(288,564.8) rotate(-90)">Dez. 09</text>
<text transform="translate(305.21,564.8) rotate(-90)">Feb. 10</text>
<text transform="translate(322.43,564.8) rotate(-90)">Apr. 10</text>
<text transform="translate(339.64,564.8) rotate(-90)">Jun. 10</text>
<text transform="translate(356.86,564.8) rotate(-90)">Aug. 10</text>
<text transform="translate(374.08,564.8) rotate(-90)">Okt. 10</text>
<text transform="translate(391.29,564.8) rotate(-90)">Dez. 10</text>
<text transform="translate(408.51,564.8) rotate(-90)">Feb. 11</text>
<text transform="translate(425.72,564.8) rotate(-90)">Apr. 11</text>
<text transform="translate(442.94,564.8) rotate(-90)">Jun. 11</text>
<text transform="translate(460.16,564.8) rotate(-90)">Aug. 11</text>
<text transform="translate(477.37,564.8) rotate(-90)">Okt. 11</text>
<text transform="translate(494.59,564.8) rotate(-90)">Dez. 11</text>
<text transform="translate(511.8,564.8) rotate(-90)">Feb. 12</text>
<text transform="translate(529.02,564.8) rotate(-90)">Apr. 12</text>
<text transform="translate(546.24,564.8) rotate(-90)">Jun. 12</text>
<text transform="translate(563.45,564.8) rotate(-90)">Aug. 12</text>
<text transform="translate(580.67,564.8) rotate(-90)">Okt. 12</text>
<text transform="translate(597.88,564.8) rotate(-90)">Dez. 12</text>
<text transform="translate(615.1,564.8) rotate(-90)">Feb. 13</text>
<text transform="translate(632.32,564.8) rotate(-90)">Apr. 13</text>
<text transform="translate(649.53,564.8) rotate(-90)">Jun. 13</text>
<text transform="translate(666.75,564.8) rotate(-90)">Aug. 13</text>
<text transform="translate(683.96,564.8) rotate(-90)">Okt. 13</text>
<text transform="translate(701.18,564.8) rotate(-90)">Dez. 13</text>
<text transform="translate(718.4,564.8) rotate(-90)">Feb. 14</text>
<text transform="translate(735.61,564.8) rotate(-90)">Apr. 14</text>
<text transform="translate(752.83,564.8) rotate(-90)">Jun. 14</text>
<text transform="translate(770.04,564.8) rotate(-90)">Aug. 14</text>
<text transform="translate(787.26,564.8) rotate(-90)">Okt. 14</text>
<text transform="translate(804.48,564.8) rotate(-90)">Dez. 14</text>
<text transform="translate(821.69,564.8) rotate(-90)">Feb. 15</text>
<text transform="translate(838.91,564.8) rotate(-90)">Apr. 15</text>
<text transform="translate(856.12,564.8) rotate(-90)">Jun. 15</text>
<text transform="translate(873.34,564.8) rotate(-90)">Aug. 15</text>
<text transform="translate(890.56,564.8) rotate(-90)">Okt. 15</text>
<text transform="translate(907.77,564.8) rotate(-90)">Dez. 15</text>
<text transform="translate(924.99,564.8) rotate(-90)">Feb. 16</text>
<text transform="translate(942.2,564.8) rotate(-90)">Apr. 16</text>
<text transform="translate(959.42,564.8) rotate(-90)">Jun. 16</text>
<text transform="translate(976.64,564.8) rotate(-90)">Aug. 16</text>
<text transform="translate(993.85,564.8) rotate(-90)">Okt. 16</text>
<text transform="translate(1011.07,564.8) rotate(-90)">Dez. 16</text>
<text transform="translate(1028.28,564.8) rotate(-90)">Feb. 17</text>
<text transform="translate(1045.5,564.8) rotate(-90)">Apr. 17</text>
<text transform="translate(1062.72,564.8) rotate(-90)">Jun. 17</text>
<text transform="translate(1079.93,564.8) rotate(-90)">Aug. 17</text>
<text transform="translate(1097.15,564.8) rotate(-90)">Okt. 17</text>
<text transform="translate(1114.36,564.8) rotate(-90)">Dez. 17</text>
<text transform="translate(1131.58,564.8) rotate(-90)">Feb. 18</text>
<text transform="translate(1148.8,564.8) rotate(-90)">Apr. 18</text>
<text transform="translate(1166.01,564.8) rotate(-90)">Jun. 18</text>
<text transform="translate(1183.23,564.8) rotate(-90)">Aug. 18</text>
<text transform="translate(1200.44,564.8) rotate(-90)">Okt. 18</text>
</g>
<g font-family="'Liberation Sans',sans-serif" font-size="9.4" fill="#0c0c0c" text-anchor="middle"><text x="77.2" y="492.87">23,6%</text><text x="85.81" y="503.17">23,6%</text><text x="94.42" y="512.97">19,6%</text><text x="103.03" y="521.87">18,8%</text><text x="111.64" y="508.17">16,1%</text><text x="120.24" y="522.97">15,5%</text><text x="128.85" y="515.27">18,6%</text><text x="137.46" y="535.47">17,0%</text><text x="146.07" y="509.57">17,4%</text><text x="154.68" y="515.67">18,5%</text><text x="163.28" y="520.97">16,5%</text><text x="171.89" y="511.17">16,0%</text><text x="180.5" y="521.87">15,8%</text><text x="189.11" y="516.37">14,8%</text><text x="197.72" y="533.97">15,9%</text><text x="206.32" y="524.77">14,5%</text><text x="214.93" y="523.67">15,2%</text><text x="223.54" y="529.37">16,3%</text><text x="232.15" y="514.97">15,3%</text><text x="240.76" y="523.67">15,2%</text><text x="249.36" y="534.37">14,8%</text><text x="257.97" y="520.97">16,6%</text><text x="266.58" y="510.67">14,8%</text><text x="275.19" y="520.97">16,4%</text><text x="283.8" y="537.37">14,2%</text><text x="292.4" y="521.37">16,3%</text><text x="301.01" y="514.57">13,9%</text><text x="309.62" y="527.07">14,0%</text><text x="318.23" y="546.47">9,1%</text><text x="326.84" y="535.47">10,4%</text><text x="335.44" y="536.67">9,9%</text><text x="344.05" y="546.47">10,8%</text><text x="352.66" y="521.37">10,6%</text><text x="361.27" y="527.07">14,0%</text><text x="369.88" y="530.47">12,2%</text><text x="378.48" y="540.77">12,0%</text><text x="387.09" y="545.37">10,5%</text><text x="395.7" y="540.07">8,9%</text><text x="404.31" y="535.07">10,6%</text><text x="412.92" y="528.67">10,3%</text><text x="421.52" y="526.37">10,1%</text><text x="430.13" y="538.47">9,2%</text><text x="438.74" y="541.87">8,1%</text><text x="447.35" y="533.27">7,7%</text><text x="455.96" y="543.07">7,0%</text><text x="464.56" y="544.17">6,4%</text><text x="473.17" y="553.97">7,4%</text><text x="481.78" y="543.07">7,2%</text><text x="490.39" y="543.07">6,7%</text><text x="499" y="536.17">6,3%</text><text x="507.6" y="546.47">5,5%</text><text x="516.21" y="546.47">5,0%</text><text x="524.82" y="541.47">4,4%</text><text x="533.43" y="546.47">6,2%</text><text x="542.04" y="546.47">6,5%</text><text x="550.64" y="554.87">5,5%</text><text x="559.25" y="548.27">5,2%</text><text x="567.86" y="537.37">4,5%</text><text x="576.47" y="549.87">4,4%</text><text x="585.08" y="540.77">4,7%</text><text x="593.68" y="542.37">7,6%</text><text x="602.29" y="546.47">6,0%</text><text x="610.9" y="550.97">5,6%</text><text x="619.51" y="541.87">8,2%</text><text x="628.12" y="541.47">7,9%</text><text x="636.72" y="549.37">5,0%</text><text x="645.33" y="541.87">7,6%</text><text x="653.94" y="541.87">7,8%</text><text x="662.55" y="548.77">5,1%</text><text x="671.16" y="535.07">6,8%</text><text x="679.76" y="548.37">5,3%</text><text x="688.37" y="556.67">5,8%</text><text x="696.98" y="544.17">6,5%</text><text x="705.59" y="547.57">5,2%</text><text x="714.2" y="543.07">4,5%</text><text x="722.8" y="543.77">6,5%</text><text x="731.41" y="553.37">3,2%</text><text x="740.02" y="559.87">0,4%</text></g>
<g font-family="'Liberation Sans',sans-serif" font-size="8.2" fill="#0c0c0c" text-anchor="middle"><text x="77.2" y="308.44">54%</text><text x="85.81" y="311.14">53%</text><text x="94.42" y="313.94">60%</text><text x="103.03" y="316.24">60%</text><text x="111.64" y="350.34">52%</text><text x="120.24" y="372.74">45%</text><text x="128.85" y="359.04">44%</text><text x="137.46" y="364.04">45%</text><text x="146.07" y="367.04">43%</text><text x="154.68" y="358.54">44%</text><text x="163.28" y="356.74">49%</text><text x="171.89" y="359.54">49%</text><text x="180.5" y="365.84">47%</text><text x="189.11" y="371.54">46%</text><text x="197.72" y="364.04">47%</text><text x="206.32" y="367.04">49%</text><text x="214.93" y="372.74">45%</text><text x="223.54" y="367.74">45%</text><text x="232.15" y="372.24">45%</text><text x="240.76" y="381.84">41%</text><text x="249.36" y="381.84">42%</text><text x="257.97" y="368.64">44%</text><text x="266.58" y="372.74">46%</text><text x="275.19" y="370.44">44%</text><text x="283.8" y="380.74">44%</text><text x="292.4" y="372.24">43%</text><text x="301.01" y="375.44">47%</text><text x="309.62" y="381.34">44%</text><text x="318.23" y="374.94">56%</text><text x="326.84" y="398.24">44%</text><text x="335.44" y="406.24">42%</text><text x="344.05" y="406.94">40%</text><text x="352.66" y="416.54">37%</text><text x="361.27" y="393.34">39%</text><text x="369.88" y="408.44">37%</text><text x="378.48" y="420.24">33%</text><text x="387.09" y="429.34">32%</text><text x="395.7" y="421.64">38%</text><text x="404.31" y="431.14">31%</text><text x="412.92" y="426.54">33%</text><text x="421.52" y="423.94">35%</text><text x="430.13" y="431.94">33%</text><text x="438.74" y="431.94">36%</text><text x="447.35" y="428.74">38%</text><text x="455.96" y="438.44">35%</text><text x="464.56" y="442.94">35%</text><text x="473.17" y="442.94">33%</text><text x="481.78" y="446.54">31%</text><text x="490.39" y="452.94">30%</text><text x="499" y="453.44">30%</text><text x="507.6" y="443.34">36%</text><text x="516.21" y="450.54">34%</text><text x="524.82" y="453.44">34%</text><text x="533.43" y="445.34">34%</text><text x="542.04" y="454.74">30%</text><text x="550.64" y="449.34">34%</text><text x="559.25" y="457.44">31%</text><text x="567.86" y="469.34">28%</text><text x="576.47" y="466.94">29%</text><text x="585.08" y="455.94">33%</text><text x="593.68" y="441.14">33%</text><text x="602.29" y="465.64">26%</text><text x="610.9" y="460.24">29%</text><text x="619.51" y="438.94">33%</text><text x="628.12" y="452.44">28%</text><text x="636.72" y="461.14">30%</text><text x="645.33" y="461.94">25%</text><text x="653.94" y="459.34">25%</text><text x="662.55" y="472.94">25%</text><text x="671.16" y="473.94">21%</text><text x="679.76" y="481.14">22%</text><text x="688.37" y="459.64">29%</text><text x="696.98" y="467.94">24%</text><text x="705.59" y="485.24">20%</text><text x="714.2" y="475.64">25%</text><text x="722.8" y="466.54">25%</text><text x="731.41" y="497.74">19%</text><text x="740.02" y="510.74">20%</text><text x="748.63" y="520.54">16%</text><text x="757.24" y="524.84">15%</text><text x="765.84" y="519.84">17%</text><text x="774.45" y="531.24">12%</text><text x="783.06" y="530.04">12%</text><text x="791.67" y="543.34">8%</text><text x="800.28" y="535.74">10%</text><text x="808.88" y="547.84">7%</text><text x="817.49" y="539.64">9%</text><text x="826.1" y="543.74">7%</text><text x="834.71" y="542.64">7%</text><text x="843.32" y="546.44">6%</text><text x="851.92" y="536.94">8%</text><text x="860.53" y="547.14">6%</text><text x="869.14" y="540.34">7%</text><text x="877.75" y="548.34">5%</text><text x="886.36" y="544.94">6%</text><text x="894.96" y="553.34">5%</text><text x="903.57" y="547.14">4%</text><text x="912.18" y="547.14">4%</text><text x="920.79" y="552.94">3%</text><text x="929.4" y="553.34">3%</text><text x="938" y="557.44">2%</text><text x="946.61" y="553.94">2%</text><text x="955.22" y="559.24">1%</text></g>
<g font-family="'Liberation Sans',sans-serif" font-size="8.2" fill="#0c0c0c" text-anchor="middle"><text x="77.2" y="170.74">1%</text><text x="85.81" y="174.64">2%</text><text x="94.42" y="156.34">3%</text><text x="103.03" y="156.34">4%</text><text x="111.64" y="205.84">6%</text><text x="120.24" y="244.14">7%</text><text x="128.85" y="233.14">6%</text><text x="137.46" y="239.14">5%</text><text x="146.07" y="242.34">7%</text><text x="154.68" y="231.54">6%</text><text x="163.28" y="223.64">5%</text><text x="171.89" y="221.34">6%</text><text x="180.5" y="227.74">9%</text><text x="189.11" y="234.54">8%</text><text x="197.72" y="226.34">8%</text><text x="206.32" y="227.04">8%</text><text x="214.93" y="236.14">9%</text><text x="223.54" y="234.54">9%</text><text x="232.15" y="237.24">9%</text><text x="240.76" y="253.74">10%</text><text x="249.36" y="253.24">9%</text><text x="257.97" y="233.84">10%</text><text x="266.58" y="231.54">10%</text><text x="275.19" y="234.54">11%</text><text x="283.8" y="244.14">11%</text><text x="292.4" y="235.44">11%</text><text x="301.01" y="230.94">11%</text><text x="309.62" y="240.74">12%</text><text x="318.23" y="207.24">11%</text><text x="326.84" y="245.94">17%</text><text x="335.44" y="261.94">15%</text><text x="344.05" y="264.74">17%</text><text x="352.66" y="276.54">20%</text><text x="361.27" y="252.54">17%</text><text x="369.88" y="262.44">22%</text><text x="378.48" y="278.44">24%</text><text x="387.09" y="289.64">24%</text><text x="395.7" y="265.94">25%</text><text x="404.31" y="285.94">28%</text><text x="412.92" y="278.44">26%</text><text x="421.52" y="276.24">24%</text><text x="430.13" y="285.34">26%</text><text x="438.74" y="280.54">25%</text><text x="447.35" y="274.44">24%</text><text x="455.96" y="285.94">26%</text><text x="464.56" y="279.34">31%</text><text x="473.17" y="279.94">33%</text><text x="481.78" y="279.94">36%</text><text x="490.39" y="289.34">36%</text><text x="499" y="285.34">37%</text><text x="507.6" y="276.24">31%</text><text x="516.21" y="291.94">29%</text><text x="524.82" y="296.54">29%</text><text x="533.43" y="290.24">28%</text><text x="542.04" y="296.54">34%</text><text x="550.64" y="298.74">26%</text><text x="559.25" y="302.44">31%</text><text x="567.86" y="310.74">35%</text><text x="576.47" y="303.94">37%</text><text x="585.08" y="293.94">32%</text><text x="593.68" y="291.44">26%</text><text x="602.29" y="302.94">39%</text><text x="610.9" y="286.54">40%</text><text x="619.51" y="279.34">31%</text><text x="628.12" y="295.64">36%</text><text x="636.72" y="291.94">37%</text><text x="645.33" y="302.44">39%</text><text x="653.94" y="308.94">35%</text><text x="662.55" y="297.44">45%</text><text x="671.16" y="313.94">43%</text><text x="679.76" y="313.94">45%</text><text x="688.37" y="296.24">36%</text><text x="696.98" y="305.64">41%</text><text x="705.59" y="311.14">49%</text><text x="714.2" y="296.54">46%</text><text x="722.8" y="303.44">41%</text><text x="731.41" y="329.34">48%</text><text x="740.02" y="343.04">47%</text><text x="748.63" y="360.84">47%</text><text x="757.24" y="347.24">57%</text><text x="765.84" y="360.14">47%</text><text x="774.45" y="373.84">51%</text><text x="783.06" y="391.44">43%</text><text x="791.67" y="406.24">51%</text><text x="800.28" y="414.94">40%</text><text x="808.88" y="420.94">44%</text><text x="817.49" y="410.34">43%</text><text x="826.1" y="427.44">39%</text><text x="834.71" y="419.44">42%</text><text x="843.32" y="443.74">35%</text><text x="851.92" y="430.94">34%</text><text x="860.53" y="427.94">36%</text><text x="869.14" y="436.74">36%</text><text x="877.75" y="424.24">42%</text><text x="886.36" y="417.14">47%</text><text x="894.96" y="427.44">46%</text><text x="903.57" y="414.94">44%</text><text x="912.18" y="429.74">46%</text><text x="920.79" y="439.34">44%</text><text x="929.4" y="451.44">39%</text><text x="938" y="443.44">43%</text><text x="946.61" y="433.24">46%</text><text x="955.22" y="459.44">38%</text><text x="963.83" y="453.74">40%</text><text x="972.44" y="458.94">41%</text><text x="981.04" y="450.74">44%</text><text x="989.65" y="444.64">47%</text><text x="998.26" y="439.34">47%</text><text x="1006.87" y="442.34">48%</text><text x="1015.48" y="433.24">48%</text><text x="1024.08" y="440.04">49%</text><text x="1032.69" y="451.44">44%</text><text x="1041.3" y="445.74">46%</text><text x="1049.91" y="449.84">45%</text><text x="1058.52" y="438.44">45%</text><text x="1067.12" y="454.84">43%</text><text x="1075.73" y="438.44">43%</text><text x="1084.34" y="445.24">47%</text><text x="1092.95" y="436.14">50%</text><text x="1101.56" y="450.34">49%</text><text x="1110.16" y="442.34">48%</text><text x="1118.77" y="433.84">51%</text><text x="1127.38" y="431.64">52%</text><text x="1135.99" y="444.64">47%</text><text x="1144.6" y="438.44">49%</text><text x="1153.2" y="448.44">47%</text><text x="1161.81" y="432.04">52%</text><text x="1170.42" y="437.74">50%</text><text x="1179.03" y="426.34">50%</text><text x="1187.64" y="445.24">49%</text><text x="1196.24" y="434.84">51%</text><text x="1204.85" y="426.34">50%</text></g>
<g font-family="'Liberation Sans',sans-serif" font-size="9.0" fill="#0c0c0c" text-anchor="middle"><text x="78.1" y="116.22">21%</text><text x="86.71" y="128.22">22%</text><text x="95.32" y="106.52">18%</text><text x="103.93" y="98.52">17%</text><text x="112.54" y="150.72">16%</text><text x="121.14" y="184.72">17%</text><text x="129.75" y="176.02">17%</text><text x="138.36" y="182.82">17%</text><text x="146.97" y="193.82">18%</text><text x="155.58" y="171.42">18%</text><text x="164.18" y="165.72">19%</text><text x="172.79" y="162.32">18%</text><text x="181.4" y="180.62">17%</text><text x="190.01" y="171.42">17%</text><text x="198.62" y="160.02">19%</text><text x="207.22" y="140.72">21%</text><text x="215.83" y="156.62">23%</text><text x="224.44" y="165.72">24%</text><text x="233.05" y="155.52">25%</text><text x="241.66" y="158.22">29%</text><text x="250.26" y="168.72">29%</text><text x="258.87" y="144.62">25%</text><text x="267.48" y="153.72">27%</text><text x="276.09" y="128.72">27%</text><text x="284.7" y="145.82">28%</text><text x="293.3" y="151.82">26%</text><text x="301.91" y="130.62">25%</text><text x="310.52" y="144.02">27%</text><text x="319.13" y="126.72">22%</text><text x="327.74" y="139.72">26%</text><text x="336.34" y="149.52">30%</text><text x="344.95" y="158.22">29%</text><text x="353.56" y="151.82">30%</text><text x="362.17" y="142.72">27%</text><text x="370.78" y="128.22">27%</text><text x="379.38" y="146.42">29%</text><text x="387.99" y="150.92">31%</text><text x="396.6" y="135.12">28%</text><text x="405.21" y="141.52">30%</text><text x="413.82" y="124.92">30%</text><text x="422.42" y="139.72">31%</text><text x="431.03" y="151.82">32%</text><text x="439.64" y="140.42">31%</text><text x="448.25" y="138.62">31%</text><text x="456.86" y="149.52">32%</text><text x="465.46" y="132.22">28%</text><text x="474.07" y="130.02">27%</text><text x="482.68" y="117.82">26%</text><text x="491.29" y="130.92">27%</text><text x="499.9" y="126.92">26%</text><text x="508.5" y="140.92">27%</text><text x="517.11" y="141.52">32%</text><text x="525.72" y="151.82">32%</text><text x="534.33" y="127.72">31%</text><text x="542.94" y="137.32">30%</text><text x="551.54" y="148.22">34%</text><text x="560.15" y="142.72">33%</text><text x="568.76" y="158.62">32%</text><text x="577.37" y="125.12">30%</text><text x="585.98" y="138.22">30%</text><text x="594.58" y="144.02">33%</text><text x="603.19" y="133.72">29%</text><text x="611.8" y="124.62">25%</text><text x="620.41" y="131.82">28%</text><text x="629.02" y="141.82">29%</text><text x="637.62" y="118.62">28%</text><text x="646.23" y="133.72">29%</text><text x="654.84" y="142.22">32%</text><text x="663.45" y="124.62">25%</text><text x="672.06" y="134.62">29%</text><text x="680.66" y="125.12">28%</text><text x="689.27" y="147.32">29%</text><text x="697.88" y="133.72">28%</text><text x="706.49" y="125.52">25%</text><text x="715.1" y="121.52">24%</text><text x="723.7" y="132.42">28%</text><text x="732.31" y="135.52">29%</text><text x="740.92" y="143.72">33%</text><text x="749.53" y="161.52">36%</text><text x="758.14" y="134.22">29%</text><text x="766.74" y="152.42">36%</text><text x="775.35" y="160.92">37%</text><text x="783.96" y="172.42">44%</text><text x="792.57" y="165.52">41%</text><text x="801.18" y="197.22">50%</text><text x="809.78" y="184.22">49%</text><text x="818.39" y="172.22">48%</text><text x="827" y="196.22">54%</text><text x="835.61" y="188.22">51%</text><text x="844.22" y="208.72">59%</text><text x="852.82" y="221.22">58%</text><text x="861.43" y="207.22">58%</text><text x="870.04" y="201.22">57%</text><text x="878.65" y="193.22">53%</text><text x="887.26" y="181.22">48%</text><text x="895.86" y="191.22">49%</text><text x="904.47" y="177.22">51%</text><text x="913.08" y="189.22">51%</text><text x="921.69" y="192.22">52%</text><text x="930.3" y="209.22">59%</text><text x="938.9" y="198.22">55%</text><text x="947.51" y="190.72">53%</text><text x="956.12" y="213.22">61%</text><text x="964.73" y="199.22">60%</text><text x="973.34" y="210.22">59%</text><text x="981.94" y="201.42">56%</text><text x="990.55" y="196.52">52%</text><text x="999.16" y="196.22">51%</text><text x="1007.77" y="196.22">51%</text><text x="1016.38" y="185.02">51%</text><text x="1024.98" y="195.42">49%</text><text x="1033.59" y="208.22">53%</text><text x="1042.2" y="200.82">52%</text><text x="1050.81" y="202.72">54%</text><text x="1059.42" y="192.22">54%</text><text x="1068.02" y="209.62">56%</text><text x="1076.63" y="195.92">55%</text><text x="1085.24" y="205.62">52%</text><text x="1093.85" y="190.52">48%</text><text x="1102.46" y="198.22">49%</text><text x="1111.06" y="187.72">51%</text><text x="1119.67" y="201.42">48%</text><text x="1128.28" y="184.22">47%</text><text x="1136.89" y="196.82">52%</text><text x="1145.5" y="190.22">50%</text><text x="1154.1" y="200.82">53%</text><text x="1162.71" y="181.42">48%</text><text x="1171.32" y="188.72">50%</text><text x="1179.93" y="180.22">50%</text><text x="1188.54" y="199.62">51%</text><text x="1197.14" y="185.92">49%</text><text x="1205.75" y="178.72">50%</text></g>
<g font-family="'Liberation Sans',sans-serif" font-size="9.3" fill="#0c0c0c" text-anchor="middle"><text x="103.03" y="63.63">0,6%</text><text x="111.64" y="89.83">8,6%</text><text x="120.24" y="110.83">12,5%</text><text x="128.85" y="122.53">9,9%</text><text x="137.46" y="103.33">11,2%</text><text x="146.07" y="119.13">10,5%</text><text x="154.68" y="103.33">9,0%</text><text x="163.28" y="101.63">7,3%</text><text x="171.89" y="94.13">7,4%</text><text x="180.5" y="103.33">8,0%</text><text x="189.11" y="110.83">8,0%</text><text x="197.72" y="97.53">5,9%</text><text x="206.32" y="89.13">4,8%</text><text x="214.93" y="86.63">4,1%</text><text x="223.54" y="84.13">3,4%</text><text x="232.15" y="83.33">3,1%</text><text x="240.76" y="80.03">2,9%</text><text x="249.36" y="73.38">2,9%</text><text x="257.97" y="78.33">1,6%</text><text x="1024.08" y="68.93">1,6%</text><text x="1032.69" y="73.63">2,6%</text><text x="1041.3" y="66.93">1,6%</text><text x="1067.12" y="66.93">1,6%</text><text x="1084.34" y="66.18">1,3%</text><text x="1101.56" y="68.18">2,1%</text><text x="1118.77" y="65.93">1,1%</text><text x="1135.99" y="64.93">0,8%</text></g>
<g font-family="'Liberation Sans',sans-serif" font-size="9.4" font-weight="bold" fill="#0c0c0c" text-anchor="middle"><text x="120.24" y="71.77">3,5%</text><text x="128.85" y="75.67">4,8%</text><text x="137.46" y="74.17">4,4%</text><text x="146.07" y="73.87">4,0%</text><text x="154.68" y="74.17">4,0%</text><text x="163.28" y="73.87">4,3%</text><text x="171.89" y="74.17">3,9%</text><text x="180.5" y="74.37">4,3%</text><text x="189.11" y="78.37">5,7%</text><text x="197.72" y="72.37">4,2%</text><text x="206.32" y="71.12">3,3%</text><text x="223.54" y="69.62">2,7%</text><text x="240.76" y="68.12">2,1%</text><text x="257.97" y="68.87">2,3%</text><text x="275.19" y="67.87">2,0%</text><text x="292.4" y="70.12">2,9%</text><text x="309.62" y="70.62">3,1%</text><text x="326.84" y="69.37">2,5%</text><text x="344.05" y="69.74">2,6%</text><text x="361.27" y="69.99">2,8%</text><text x="378.48" y="68.12">2,1%</text><text x="395.7" y="64.87">0,8%</text><text x="412.92" y="64.62">0,7%</text></g>
<g font-family="'Liberation Sans',sans-serif" font-weight="bold" font-size="12.4" fill="#111">
<text x="440.6" y="24.7" textLength="357.2" lengthAdjust="spacingAndGlyphs">Marktanteile (Umsatz) Smoothies DE Dez 2007 - Nov 2018</text>
<text x="558" y="42.6" textLength="122.5" lengthAdjust="spacingAndGlyphs">Quelle: A.C. Nielsen</text>
</g>
<g font-family="'Liberation Sans',sans-serif" font-weight="bold" font-size="9.6" fill="#111">
<rect x="1234.6" y="200.1" width="5.4" height="5.4" fill="#ef9450"/>
<text x="1241.8" y="206.2">Valensina</text>
<rect x="1234.6" y="217.1" width="5.4" height="5.4" fill="#47a4bd"/>
<text x="1241.8" y="223.2">Granini</text>
<rect x="1234.6" y="234.1" width="5.4" height="5.4" fill="#7a68a2"/>
<text x="1241.8" y="240.2">true fruits</text>
<rect x="1234.6" y="251.1" width="5.4" height="5.4" fill="#8cae63"/>
<text x="1241.8" y="257.2">Innocent</text>
<rect x="1234.6" y="268.1" width="5.4" height="5.4" fill="#b25350"/>
<text x="1241.8" y="274.2">Chiquita</text>
<rect x="1234.6" y="285.1" width="5.4" height="5.4" fill="#4a80bc"/>
<text x="1241.8" y="291.2">Schwartau</text>
</g>
</svg>
</body></html>
